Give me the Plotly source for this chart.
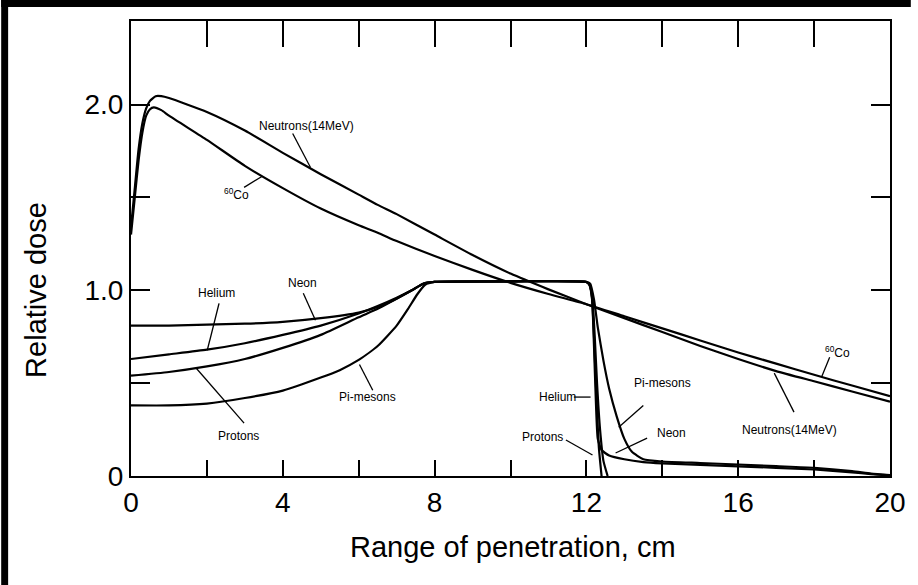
import plotly.graph_objects as go

# ---------------- data ----------------
neutron_x = [0, 0.1, 0.2, 0.3, 0.4, 0.5, 0.65, 0.8, 1, 2, 3, 4, 5, 6, 6.5, 7, 8, 9, 10, 11, 12, 13, 14, 15, 16, 17, 18, 19, 20]
neutron_y = [1.34, 1.55, 1.76, 1.90, 1.98, 2.02, 2.045, 2.045, 2.035, 1.96, 1.86, 1.74, 1.625, 1.515, 1.46, 1.41, 1.30, 1.19, 1.09, 1.005, 0.925, 0.85, 0.775, 0.70, 0.63, 0.565, 0.51, 0.455, 0.40]

cobalt_x = [0, 0.1, 0.2, 0.3, 0.4, 0.5, 0.6, 0.8, 1, 2, 3, 4, 5, 6, 6.5, 7, 8, 9, 10, 11, 12, 13, 14, 15, 16, 17, 18, 19, 20]
cobalt_y = [1.30, 1.50, 1.70, 1.85, 1.94, 1.975, 1.985, 1.97, 1.94, 1.81, 1.67, 1.55, 1.44, 1.35, 1.31, 1.265, 1.185, 1.11, 1.04, 0.98, 0.925, 0.86, 0.795, 0.73, 0.665, 0.605, 0.545, 0.487, 0.43]

helium_x = [0, 1, 2, 3, 4, 5, 6, 6.5, 7, 7.4, 7.7, 8, 10, 12, 12.08, 12.14, 12.19, 12.23, 12.28, 12.33, 12.4]
helium_y = [0.63, 0.655, 0.68, 0.715, 0.76, 0.81, 0.875, 0.915, 0.96, 1.0, 1.035, 1.045, 1.048, 1.045, 1.03, 0.98, 0.8, 0.6, 0.35, 0.15, 0.0]

proton_x = [0, 1, 2, 3, 4, 5, 6, 6.5, 7, 7.4, 7.7, 8, 10, 12, 12.08, 12.16, 12.22, 12.28, 12.36, 12.45, 12.56]
proton_y = [0.54, 0.56, 0.59, 0.63, 0.69, 0.76, 0.855, 0.90, 0.955, 1.0, 1.035, 1.045, 1.048, 1.045, 1.03, 0.95, 0.75, 0.5, 0.25, 0.08, 0.0]

neon_x = [0, 1, 2, 3, 4, 5, 6, 6.5, 7, 7.4, 7.7, 8, 10, 12, 12.08, 12.15, 12.2, 12.25, 12.3, 12.4, 12.6, 13, 13.5, 14, 15, 16, 17, 18, 19, 19.5, 20]
neon_y = [0.81, 0.81, 0.815, 0.82, 0.83, 0.85, 0.88, 0.91, 0.955, 1.0, 1.035, 1.045, 1.048, 1.045, 1.03, 0.95, 0.7, 0.4, 0.2, 0.14, 0.11, 0.09, 0.075, 0.068, 0.06, 0.052, 0.044, 0.035, 0.02, 0.01, 0.003]

pion_x = [0, 1, 2, 3, 4, 5, 5.5, 6, 6.5, 7, 7.3, 7.55, 7.75, 8, 10, 12, 12.1, 12.2, 12.3, 12.45, 12.6, 12.8, 13, 13.2, 13.5, 14, 15, 16, 17, 18, 19, 19.5, 20]
pion_y = [0.38, 0.38, 0.39, 0.42, 0.46, 0.53, 0.57, 0.625, 0.70, 0.81, 0.90, 0.98, 1.03, 1.045, 1.048, 1.045, 1.035, 0.95, 0.8, 0.62, 0.47, 0.32, 0.2, 0.13, 0.09, 0.078, 0.07, 0.062, 0.053, 0.044, 0.026, 0.013, 0.005]

x_tick_vals = [0, 2, 4, 6, 8, 10, 12, 14, 16, 18, 20]
x_tick_text = ["0", "", "4", "", "8", "", "12", "", "16", "", "20"]
top_tick_vals = [2, 4, 6, 8, 10, 12, 14, 16, 18]
y_tick_vals = [0, 0.5, 1.0, 1.5, 2.0]
y_tick_text = ["0", "", "1.0", "", "2.0"]

x_title = "Range of penetration, cm"
y_title = "Relative dose"

# labels: text, label position (x, y), leader start, leader end
label_text = ["Neutrons(14MeV)", "<sup>60</sup>Co", "Neon", "Helium", "Protons", "Pi-mesons",
              "Helium", "Protons", "Pi-mesons", "Neon", "Neutrons(14MeV)", "<sup>60</sup>Co"]
label_x = [4.62, 2.77, 4.52, 2.25, 2.82, 6.24, 11.25, 10.84, 14.0, 14.23, 17.34, 18.62]
label_y = [1.887, 1.52, 1.038, 0.984, 0.215, 0.425, 0.425, 0.21, 0.50, 0.231, 0.247, 0.67]
lead_x0 = [4.26, 2.98, 4.54, 2.32, 2.98, 6.37, 11.67, 11.46, 13.5, 13.6, 17.47, 18.41]
lead_y0 = [1.844, 1.554, 0.984, 0.93, 0.285, 0.462, 0.425, 0.194, 0.38, 0.204, 0.344, 0.64]
lead_x1 = [4.73, 3.45, 4.86, 2.01, 1.72, 6.02, 12.11, 12.16, 12.85, 12.77, 16.95, 18.2]
lead_y1 = [1.661, 1.613, 0.839, 0.677, 0.58, 0.60, 0.425, 0.113, 0.263, 0.124, 0.554, 0.535]

# ---------------- figure ----------------
W, H = 918, 585
ML, MR, MT, MB = 131, 21, 21, 109
pw = W - ML - MR
ph = H - MT - MB

fig = go.Figure()
line_style = dict(color="black", width=2.2, shape="spline", smoothing=0.5)
for xs, ys in [(neutron_x, neutron_y), (cobalt_x, cobalt_y), (helium_x, helium_y),
               (proton_x, proton_y), (neon_x, neon_y), (pion_x, pion_y)]:
    fig.add_trace(go.Scatter(x=xs, y=ys, mode="lines", line=line_style,
                             showlegend=False, hoverinfo="skip"))
# invisible trace on the top axis so that it gets drawn
fig.add_trace(go.Scatter(x=[0, 20], y=[0, 0], xaxis="x2", yaxis="y", mode="lines",
                         line=dict(width=0), showlegend=False, hoverinfo="skip"))

for t, lx, ly, x0, y0, x1, y1 in zip(label_text, label_x, label_y, lead_x0, lead_y0, lead_x1, lead_y1):
    fig.add_shape(type="line", x0=x0, y0=y0, x1=x1, y1=y1, xref="x", yref="y",
                  line=dict(color="black", width=1.3))
    fig.add_annotation(x=lx, y=ly, text=t, showarrow=False, xref="x", yref="y",
                       font=dict(family="Liberation Sans, Arial", size=12, color="black"))

band = 7
# black border bands (left and top edges of the scanned image)
fig.add_shape(type="rect", xref="paper", yref="paper",
              x0=-ML / pw, x1=(band - ML) / pw, y0=-MB / ph, y1=(H - MB) / ph,
              fillcolor="black", line=dict(width=0), layer="above")
fig.add_shape(type="rect", xref="paper", yref="paper",
              x0=-ML / pw, x1=(W - ML) / pw, y0=(H - MB - band) / ph, y1=(H - MB) / ph,
              fillcolor="black", line=dict(width=0), layer="above")

title_font = dict(family="Liberation Sans, Arial", size=29, color="black")
axis_font = dict(family="Liberation Sans, Arial", size=28, color="black")

# axis titles (paper coordinates)
fig.add_annotation(x=(517 - ML) / pw, y=-71 / ph, xref="paper", yref="paper", text=x_title,
                   showarrow=False, font=title_font, xanchor="center", yanchor="middle")
fig.add_annotation(x=(35 - ML) / pw, y=186 / ph, xref="paper", yref="paper", text=y_title,
                   showarrow=False, font=title_font, textangle=-90,
                   xanchor="center", yanchor="middle")

fig.update_layout(
    width=W, height=H, margin=dict(l=ML, r=MR, t=MT, b=MB),
    plot_bgcolor="white", paper_bgcolor="white",
    font=dict(family="Liberation Sans, Arial", color="black"),
    xaxis=dict(range=[0, 20], tickmode="array", tickvals=x_tick_vals, ticktext=x_tick_text,
               ticks="inside", ticklen=16, tickwidth=1.8, tickcolor="black",
               showline=True, linecolor="black", linewidth=2, mirror=True,
               showgrid=False, zeroline=False, tickfont=axis_font),
    xaxis2=dict(range=[0, 20], overlaying="x", side="top", tickmode="array",
                tickvals=top_tick_vals, ticks="inside", ticklen=26, tickwidth=1.8,
                tickcolor="black", showticklabels=False, showline=False,
                showgrid=False, zeroline=False),
    yaxis=dict(range=[0, 2.45], tickmode="array", tickvals=y_tick_vals, ticktext=y_tick_text,
               ticks="inside", ticklen=19, tickwidth=1.8, tickcolor="black",
               showline=True, linecolor="black", linewidth=2, mirror="ticks",
               showgrid=False, zeroline=False, tickfont=axis_font),
)

fig.write_html("out.html")
